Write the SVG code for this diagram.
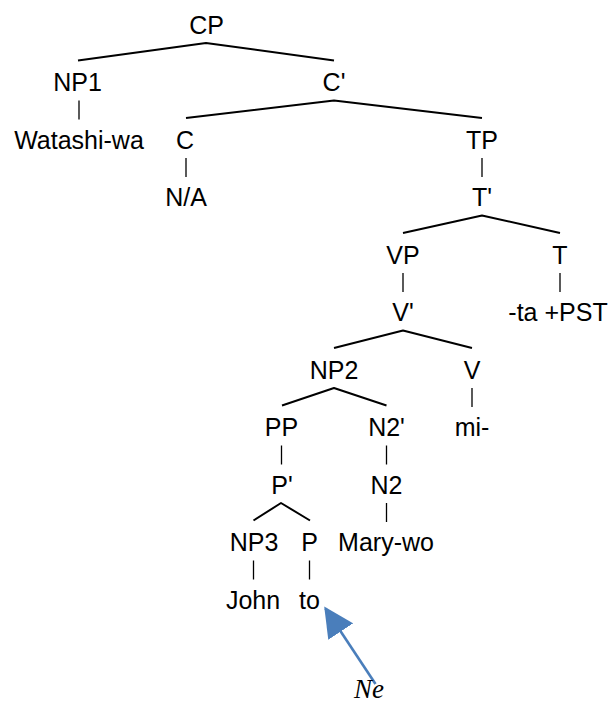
<svg xmlns="http://www.w3.org/2000/svg" width="611" height="706" viewBox="0 0 611 706">
<style>
text.n { font-family: "Liberation Sans", Arial, Helvetica, sans-serif; font-size: 25px; fill: #000; text-anchor: middle; }
.br { stroke: #000; stroke-width: 2; fill: none; stroke-linejoin: round; }
.vl { stroke: #000; stroke-width: 1.3; fill: none; }
.arrow { stroke: #4a7ebb; stroke-width: 2.6; fill: none; }
text.ne { font-family: "Liberation Serif", "Times New Roman", serif; font-style: italic; font-size: 27px; fill: #000; }
</style>
<defs>
<marker id="ah" markerUnits="userSpaceOnUse" markerWidth="30" markerHeight="30" viewBox="0 0 26 26" refX="24" refY="13" orient="auto">
<path d="M0,0 L26,13 L0,26 Z" fill="#4a7ebb"/>
</marker>
</defs>
<rect width="611" height="706" fill="#fff"/>
<g id="connectors">
<polyline class="br" points="78,60.5 206,43 334,60.5"/>
<polyline class="br" points="186,118 334,100.5 482,118"/>
<line class="vl" x1="79" y1="100.5" x2="79" y2="119.5"/>
<line class="vl" x1="186" y1="158" x2="186" y2="177"/>
<line class="vl" x1="482" y1="158" x2="482" y2="177"/>
<polyline class="br" points="403,233 482,215.5 560,233"/>
<line class="vl" x1="403" y1="273" x2="403" y2="292"/>
<line class="vl" x1="560" y1="273" x2="560" y2="292"/>
<polyline class="br" points="334,348 403,330.5 472,348"/>
<line class="vl" x1="472" y1="388" x2="472" y2="407"/>
<polyline class="br" points="282,405.5 334,388 386.5,405.5"/>
<line class="vl" x1="281.5" y1="445.5" x2="281.5" y2="464.5"/>
<line class="vl" x1="386.5" y1="445.5" x2="386.5" y2="464.5"/>
<polyline class="br" points="253.5,520.5 281,503 310,520.5"/>
<line class="vl" x1="386.5" y1="503" x2="386.5" y2="522"/>
<line class="vl" x1="253.5" y1="560.5" x2="253.5" y2="579.5"/>
<line class="vl" x1="309.5" y1="560.5" x2="309.5" y2="579.5"/>
<line id="ne-arrow" class="arrow" x1="375.5" y1="684" x2="325.5" y2="608.5" marker-end="url(#ah)"/>
</g>
<g id="CP"><text class="n" x="206.5" y="33.5">CP</text></g>
<g id="NP1"><text class="n" x="77.5" y="91">NP1</text></g>
<g id="Cbar"><text class="n" x="334" y="91">C'</text></g>
<g id="Watashi-wa"><text class="n" x="79" y="148.5">Watashi-wa</text></g>
<g id="C"><text class="n" x="185" y="148.5">C</text></g>
<g id="TP"><text class="n" x="482" y="148.5">TP</text></g>
<g id="NA"><text class="n" x="186" y="206">N/A</text></g>
<g id="Tbar"><text class="n" x="482" y="206">T'</text></g>
<g id="VP"><text class="n" x="403" y="263.5">VP</text></g>
<g id="T"><text class="n" x="560" y="263.5">T</text></g>
<g id="Vbar"><text class="n" x="403" y="321">V'</text></g>
<g id="ta-PST"><text class="n" x="558" y="321">-ta +PST</text></g>
<g id="NP2"><text class="n" x="334" y="378.5">NP2</text></g>
<g id="V"><text class="n" x="472" y="378.5">V</text></g>
<g id="PP"><text class="n" x="281.5" y="436">PP</text></g>
<g id="N2bar"><text class="n" x="386.5" y="436">N2'</text></g>
<g id="mi"><text class="n" x="472" y="436">mi-</text></g>
<g id="Pbar"><text class="n" x="282" y="493.5">P'</text></g>
<g id="N2"><text class="n" x="386.5" y="493.5">N2</text></g>
<g id="NP3"><text class="n" x="254" y="551">NP3</text></g>
<g id="P"><text class="n" x="309.5" y="551">P</text></g>
<g id="Mary-wo"><text class="n" x="386" y="551">Mary-wo</text></g>
<g id="John"><text class="n" x="253" y="608.5">John</text></g>
<g id="to"><text class="n" x="309.5" y="608.5">to</text></g>
<g id="Ne"><text class="ne" x="354" y="698">Ne</text></g>
</svg>
